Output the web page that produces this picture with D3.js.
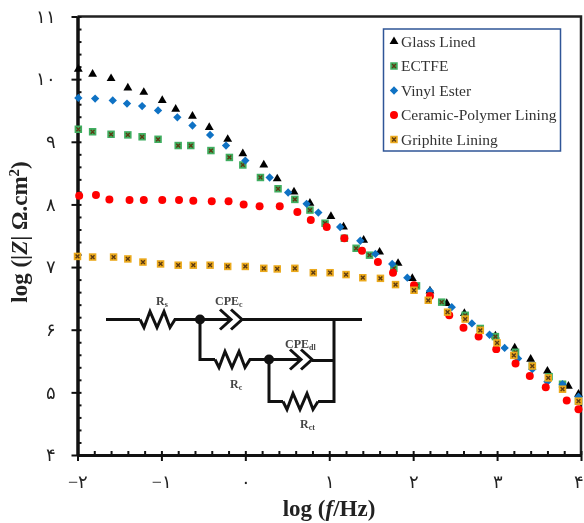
<!DOCTYPE html>
<html>
<head>
<meta charset="utf-8">
<script src="https://cdn.jsdelivr.net/npm/d3@7"></script>
<style>
body { margin: 0; background: #fff; }
svg { display: block; filter: blur(0.45px); }
text { font-family: "Liberation Serif", serif; }
</style>
</head>
<body>
<script>
var seriesNames = ["Glass Lined", "ECTFE", "Vinyl Ester", "Ceramic-Polymer Lining", "Griphite Lining"];

var glassX = [-1.99,-1.82,-1.60,-1.40,-1.21,-0.99,-0.83,-0.63,-0.43,-0.21,-0.03,0.22,0.38,0.58,0.77,1.02,1.17,1.41,1.60,1.82,1.99,2.20,2.40,2.61,2.98,3.21,3.40,3.60,3.85,3.97];
var glassY = [10.16,10.08,10.01,9.86,9.79,9.66,9.52,9.41,9.23,9.04,8.81,8.63,8.41,8.20,8.02,7.81,7.64,7.43,7.24,7.06,6.82,6.62,6.42,6.26,5.90,5.71,5.53,5.34,5.10,4.97];

var ectfeX = [-1.99,-1.82,-1.60,-1.40,-1.23,-1.04,-0.80,-0.65,-0.41,-0.19,-0.03,0.18,0.39,0.59,0.77,0.95,1.18,1.32,1.48,1.77,2.04,2.34,2.62,2.80,2.98,3.22,3.42,3.62,3.78,3.97];
var ectfeY = [9.20,9.16,9.12,9.11,9.08,9.04,8.94,8.94,8.86,8.75,8.63,8.43,8.25,8.08,7.91,7.70,7.46,7.30,7.19,6.98,6.70,6.44,6.23,6.02,5.89,5.64,5.42,5.25,5.13,4.86];

var vinylX = [-1.99,-1.79,-1.58,-1.41,-1.23,-1.04,-0.81,-0.63,-0.42,-0.23,0.00,0.29,0.51,0.73,0.87,1.13,1.37,1.55,1.75,1.93,2.20,2.46,2.70,2.91,3.09,3.25,3.42,3.60,3.78,3.97];
var vinylY = [9.70,9.69,9.66,9.61,9.57,9.50,9.39,9.26,9.11,8.94,8.70,8.43,8.19,8.01,7.87,7.64,7.42,7.21,7.05,6.83,6.62,6.36,6.10,5.92,5.71,5.54,5.37,5.17,5.13,4.93];

var ceramicX = [-1.98,-1.78,-1.62,-1.38,-1.21,-0.99,-0.79,-0.62,-0.40,-0.20,-0.02,0.17,0.41,0.62,0.78,0.97,1.18,1.39,1.58,1.76,2.01,2.20,2.43,2.60,2.78,2.99,3.22,3.39,3.58,3.83,3.97];
var ceramicY = [8.14,8.15,8.08,8.07,8.07,8.07,8.07,8.06,8.05,8.05,8.00,7.97,7.97,7.88,7.75,7.64,7.46,7.26,7.08,6.91,6.71,6.54,6.23,6.03,5.89,5.69,5.46,5.26,5.08,4.87,4.73];

var griphiteX = [-2.00,-1.82,-1.57,-1.40,-1.22,-1.01,-0.80,-0.62,-0.42,-0.21,0.00,0.22,0.38,0.59,0.81,1.01,1.20,1.40,1.61,1.79,2.01,2.18,2.41,2.62,2.80,3.00,3.20,3.42,3.61,3.78,3.97];
var griphiteY = [7.17,7.16,7.16,7.13,7.08,7.05,7.03,7.03,7.03,7.01,7.01,6.98,6.97,6.98,6.91,6.91,6.88,6.83,6.82,6.72,6.63,6.47,6.28,6.17,5.99,5.79,5.59,5.42,5.23,5.05,4.86];

var xTickValues = [-2, -1, 0, 1, 2, 3, 4];
var xTickLabels = ["\u2212\u06F2", "\u2212\u06F1", "\u06F0", "\u06F1", "\u06F2", "\u06F3", "\u06F4"];
var yTickValues = [4, 5, 6, 7, 8, 9, 10, 11];
var yTickLabels = ["\u06F4", "\u06F5", "\u06F6", "\u06F7", "\u06F8", "\u06F9", "\u06F1\u06F0", "\u06F1\u06F1"];

var width = 584, height = 523;

var x = d3.scaleLinear().domain([-2, 4]).range([77.5, 581]);
var y = d3.scaleLinear().domain([4, 11]).range([455, 16.5]);

var svg = d3.select("body").append("svg")
  .attr("width", width)
  .attr("height", height);

var series = [
  { xs: glassX, ys: glassY, symbol: d3.symbolTriangle, size: 34, fill: "#000" },
  { xs: ectfeX, ys: ectfeY, symbol: d3.symbolSquare, size: 56, fill: "#3fae60", cross: true },
  { xs: vinylX, ys: vinylY, symbol: d3.symbolDiamond2, size: 44, fill: "#0f72c4" },
  { xs: ceramicX, ys: ceramicY, symbol: d3.symbolCircle, size: 50, fill: "#ff0000" },
  { xs: griphiteX, ys: griphiteY, symbol: d3.symbolSquare, size: 56, fill: "#eba91c", cross: true }
];

function drawMarker(sel, s) {
  sel.append("path")
    .attr("d", d3.symbol().type(s.symbol).size(s.size))
    .attr("fill", s.fill);
  if (s.cross) {
    sel.append("path")
      .attr("d", d3.symbol().type(d3.symbolTimes).size(11))
      .attr("fill", "none")
      .attr("stroke", "#5c3a12")
      .attr("stroke-width", 1.4);
  }
}

// frame, top and right are thinner than the axes
svg.append("path")
  .attr("d", "M" + x(-2) + "," + y(11) + "H" + x(4) + "V" + y(4))
  .attr("fill", "none")
  .attr("stroke", "#222")
  .attr("stroke-width", 2.5);

function styleAxis(g, w) {
  g.selectAll("path").attr("stroke", "#111").attr("stroke-width", w);
  g.selectAll("line").attr("stroke", "#111").attr("stroke-width", 2);
}

var xMinor = d3.range(-2, 4.01, 0.2);
var yMinor = d3.range(4, 11.01, 0.2);

svg.append("g")
  .attr("transform", "translate(0," + y(4) + ")")
  .call(d3.axisTop(x).tickValues(xMinor).tickSize(4).tickSizeOuter(0).tickFormat(""))
  .call(styleAxis, 3);

svg.append("g")
  .attr("transform", "translate(" + x(-2) + ",0)")
  .call(d3.axisRight(y).tickValues(yMinor).tickSize(4).tickSizeOuter(0).tickFormat(""))
  .call(styleAxis, 3);

var xAxis = svg.append("g")
  .attr("transform", "translate(0," + y(4) + ")")
  .call(d3.axisBottom(x).tickValues(xTickValues).tickSize(6).tickSizeOuter(0)
    .tickFormat(function(d, i) { return xTickLabels[i]; }))
  .call(styleAxis, 3);

xAxis.selectAll("text")
  .attr("y", 27)
  .attr("dy", ".32em")
  .attr("font-family", "'DejaVu Sans'")
  .attr("font-size", 18)
  .attr("fill", "#222");

// last label would run off the page
xAxis.selectAll("g.tick").filter(function(d) { return d === 4; }).select("text")
  .attr("x", -3);

var yAxis = svg.append("g")
  .attr("transform", "translate(" + x(-2) + ",0)")
  .call(d3.axisLeft(y).tickValues(yTickValues).tickSize(6).tickSizeOuter(0)
    .tickFormat(function(d, i) { return yTickLabels[i]; }))
  .call(styleAxis, 3);

yAxis.selectAll("text")
  .attr("x", -22)
  .attr("dy", ".32em")
  .attr("font-family", "'DejaVu Sans'")
  .attr("font-size", 18)
  .attr("fill", "#222");

// axis titles
var xTitle = svg.append("text")
  .attr("x", 329)
  .attr("y", 516)
  .attr("text-anchor", "middle")
  .attr("font-size", 23)
  .attr("font-weight", "bold")
  .attr("fill", "#222");
xTitle.append("tspan").text("log (");
xTitle.append("tspan").attr("font-style", "italic").text("f");
xTitle.append("tspan").text("/Hz)");

var yTitle = svg.append("text")
  .attr("transform", "translate(27,232) rotate(-90)")
  .attr("text-anchor", "middle")
  .attr("font-size", 23)
  .attr("font-weight", "bold")
  .attr("fill", "#222");
yTitle.append("tspan").text("log (|");
yTitle.append("tspan").attr("font-style", "italic").text("Z");
yTitle.append("tspan").text("| \u03A9.cm");
yTitle.append("tspan").attr("dy", -8).attr("font-size", 15).text("2");
yTitle.append("tspan").attr("dy", 8).text(")");

// data points
series.forEach(function(s) {
  svg.append("g").selectAll("g")
    .data(s.xs)
    .enter().append("g")
    .attr("transform", function(d, i) {
      return "translate(" + x(d) + "," + y(s.ys[i]) + ")";
    })
    .each(function() { drawMarker(d3.select(this), s); });
});

// legend
var legend = svg.append("g").attr("transform", "translate(383.5,29)");
legend.append("rect")
  .attr("width", 177)
  .attr("height", 122)
  .attr("fill", "#fff")
  .attr("stroke", "#2f5597")
  .attr("stroke-width", 1.5);

var row = legend.selectAll(".row")
  .data(seriesNames)
  .enter().append("g")
  .attr("class", "row")
  .attr("transform", function(d, i) { return "translate(10.5," + (12.5 + i * 24.5) + ")"; });

row.each(function(d, i) {
  drawMarker(d3.select(this), series[i]);
});

row.append("text")
  .attr("x", 7)
  .attr("dy", ".33em")
  .attr("font-size", 15.5)
  .attr("fill", "#333")
  .text(function(d) { return d; });

// equivalent circuit inset
var circuit = svg.append("g")
  .attr("fill", "none")
  .attr("stroke", "#111")
  .attr("stroke-width", 3);

function resistor(x0, yy) {
  var d = "M" + x0 + "," + yy;
  var zig = [[4, 8], [10, -8], [17, 8], [24, -8], [30, 8], [35, 0]];
  zig.forEach(function(p) { d += "L" + (x0 + p[0]) + "," + (yy + p[1]); });
  return d;
}

function chevrons(x0, yy) {
  return "M" + x0 + "," + (yy - 10) + "L" + (x0 + 11) + "," + yy + "L" + x0 + "," + (yy + 10) +
    "M" + (x0 + 11) + "," + (yy - 10) + "L" + (x0 + 22) + "," + yy + "L" + (x0 + 11) + "," + (yy + 10);
}

circuit.append("path").attr("d",
  "M106,319.5H140" + resistor(140, 319.5) + "H231" + chevrons(220, 319.5) +
  "M242,319.5H362" +
  "M200,319.5V359.5H215" + resistor(215, 359.5) + "H301" + chevrons(290, 359.5) +
  "M312,360.5H334" +
  "M334,319.5V401.5H318" + resistor(283, 401.5) +
  "M283,401.5H269V359.5");

circuit.selectAll(".node")
  .data([[200, 319.5], [269, 359.5]])
  .enter().append("circle")
  .attr("cx", function(d) { return d[0]; })
  .attr("cy", function(d) { return d[1]; })
  .attr("r", 5)
  .attr("fill", "#111")
  .attr("stroke", "none");

var circuitLabels = [
  { main: "R", sub: "s", px: 156, py: 305 },
  { main: "CPE", sub: "c", px: 215, py: 305 },
  { main: "CPE", sub: "dl", px: 285, py: 348 },
  { main: "R", sub: "c", px: 230, py: 388 },
  { main: "R", sub: "ct", px: 300, py: 428 }
];

var labels = svg.append("g")
  .selectAll("text")
  .data(circuitLabels)
  .enter().append("text")
  .attr("x", function(d) { return d.px; })
  .attr("y", function(d) { return d.py; })
  .attr("font-size", 12)
  .attr("font-weight", "bold")
  .attr("fill", "#444");

labels.append("tspan").text(function(d) { return d.main; });
labels.append("tspan").attr("dy", 2).attr("font-size", 8).text(function(d) { return d.sub; });
</script>
</body>
</html>
